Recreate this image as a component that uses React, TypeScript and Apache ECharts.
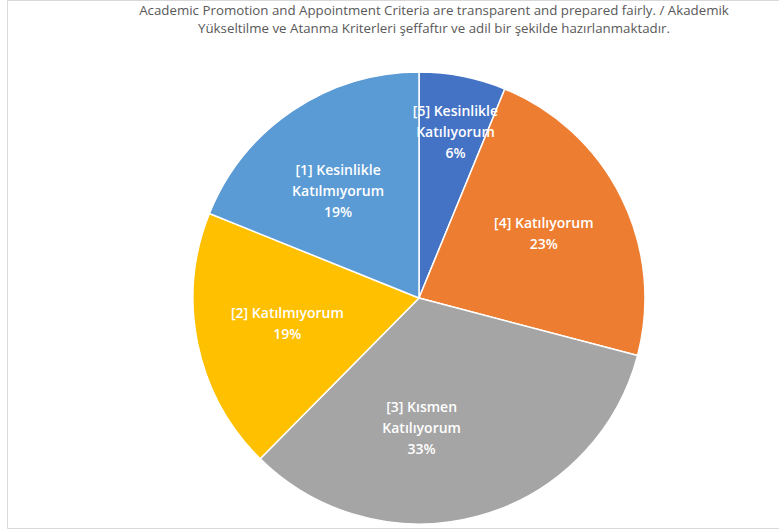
import React, { useEffect, useRef } from "react";
import * as echarts from "echarts";

const titleLines = [
  "Academic Promotion and Appointment Criteria are transparent and prepared fairly. / Akademik",
  "Yükseltilme ve Atanma Kriterleri şeffaftır ve adil bir şekilde hazırlanmaktadır.",
];
const categories = [
  "[5] Kesinlikle\nKatılıyorum",
  "[4] Katılıyorum",
  "[3] Kısmen\nKatılıyorum",
  "[2] Katılmıyorum",
  "[1] Kesinlikle\nKatılmıyorum",
];
const values = [6.2, 22.9, 33.3, 18.7, 18.9];
const colors = ["#4472C4", "#ED7D31", "#A5A5A5", "#FFC000", "#5B9BD5"];
const labelOffsets: [number, number][] = [
  [14, -53],
  [21, -13],
  [-28, 18],
  [-18, 1],
  [-16, -11],
];

export default function App() {
  const ref = useRef<HTMLDivElement>(null);
  useEffect(() => {
    if (!ref.current) return;
    const chart = echarts.init(ref.current, undefined, { renderer: "svg" });
    chart.setOption({
      animation: false,
      backgroundColor: "#ffffff",
      title: {
        text: titleLines.join("\n"),
        left: 429,
        top: -4,
        textAlign: "center",
        textStyle: {
          fontFamily: "Open Sans",
          fontSize: 13.3,
          fontWeight: "normal",
          color: "#595959",
          lineHeight: 18,
        },
      },
      graphic: [
        {
          type: "rect",
          shape: { x: 7.5, y: 0.5, width: 800, height: 528 },
          style: { fill: "none", stroke: "#d9d9d9", lineWidth: 1 },
          z: 100,
        },
      ],
      series: [
        {
          type: "pie",
          center: [419, 298],
          radius: [0, 226],
          startAngle: 90,
          clockwise: true,
          label: {
            show: true,
            position: "inside",
            color: "#ffffff",
            fontFamily: "Open Sans",
            fontSize: 14,
            fontWeight: 600,
            lineHeight: 21,
            align: "center",
            formatter: (p: any) => `${p.name}\n${Math.round(p.percent)}%`,
          },
          labelLine: { show: false },
          itemStyle: { borderColor: "#ffffff", borderWidth: 1.5 },
          emphasis: { disabled: true },
          data: categories.map((c, i) => ({
            name: c,
            value: values[i],
            itemStyle: { color: colors[i] },
            label: { offset: labelOffsets[i] },
          })),
        },
      ],
    });
    return () => chart.dispose();
  }, []);
  return (
    <div
      ref={ref}
      style={{ position: "absolute", left: 0, top: 0, width: 779, height: 532 }}
    />
  );
}
